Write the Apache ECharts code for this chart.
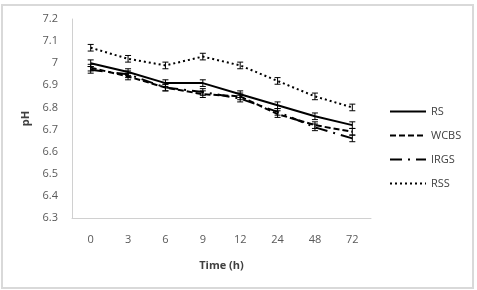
<!DOCTYPE html>
<html lang="en">
<head>
  <meta charset="UTF-8">
  <title>pH over time</title>
  <script src="https://cdn.jsdelivr.net/npm/echarts@6/dist/echarts.min.js"></script>
  <style>
    body { margin: 0; background: #fff; }
    #echarts { width: 477px; height: 290px; }
  </style>
</head>
<body>
  <div id="echarts"></div>
</body>
</html>
<script>
  // data
  const times = ['0', '3', '6', '9', '12', '24', '48', '72'];
  const rs   = [7.00, 6.96, 6.91, 6.91, 6.86, 6.81, 6.76, 6.72];
  const wcbs = [6.98, 6.94, 6.89, 6.86, 6.85, 6.77, 6.72, 6.69];
  const irgs = [6.97, 6.95, 6.89, 6.87, 6.84, 6.78, 6.71, 6.66];
  const rss  = [7.07, 7.02, 6.99, 7.03, 6.99, 6.92, 6.85, 6.80];
  const errSize = 0.015;

  let chart = echarts.init(document.getElementById('echarts'));

  function errorBars(values) {
    return {
      type: 'custom',
      z: 5,
      silent: true,
      renderItem: function (params, api) {
        let x = api.value(0);
        let v = api.value(1);
        let top = api.coord([x, v + errSize]);
        let bot = api.coord([x, v - errSize]);
        let w = 3;
        let style = { stroke: '#000', lineWidth: 1 };
        return {
          type: 'group',
          children: [
            { type: 'line', shape: { x1: top[0], y1: top[1], x2: bot[0], y2: bot[1] }, style: style },
            { type: 'line', shape: { x1: top[0] - w, y1: top[1], x2: top[0] + w, y2: top[1] }, style: style },
            { type: 'line', shape: { x1: bot[0] - w, y1: bot[1], x2: bot[0] + w, y2: bot[1] }, style: style }
          ]
        };
      },
      data: values.map((v, i) => [i, v])
    };
  }

  function lineSeries(name, values, dash) {
    return {
      name: name,
      type: 'line',
      data: values,
      symbol: 'none',
      lineStyle: { color: '#000', width: 2, type: dash },
      itemStyle: { color: '#000' }
    };
  }

  chart.setOption({
    animation: false,
    textStyle: { fontFamily: 'Open Sans' },
    graphic: [{
      type: 'rect',
      shape: { x: 2, y: 5, width: 471, height: 283 },
      style: { fill: 'none', stroke: '#d9d9d9', lineWidth: 2 }
    }],
    grid: { left: 72, right: 106, top: 19, bottom: 72 },
    legend: {
      orient: 'vertical',
      left: 384,
      top: 101,
      itemWidth: 36,
      itemHeight: 10,
      itemGap: 13,
      itemStyle: { opacity: 0 },
      textStyle: { fontSize: 11, color: '#404040' },
      data: ['RS', 'WCBS', 'IRGS', 'RSS']
    },
    xAxis: {
      type: 'category',
      data: times,
      name: 'Time (h)',
      nameLocation: 'middle',
      nameGap: 42,
      nameTextStyle: { fontWeight: 'bold', fontSize: 11, color: '#404040' },
      axisLine: { lineStyle: { color: '#d0d0d0', width: 1 } },
      axisTick: { show: false },
      axisLabel: { fontSize: 11, color: '#595959', margin: 16 }
    },
    yAxis: {
      type: 'value',
      min: 6.3,
      max: 7.2,
      interval: 0.1,
      name: 'pH',
      nameLocation: 'middle',
      nameGap: 38,
      nameTextStyle: { fontWeight: 'bold', fontSize: 11, color: '#404040' },
      axisLine: { show: true, lineStyle: { color: '#d0d0d0', width: 1 } },
      splitLine: { show: false },
      axisLabel: {
        fontSize: 11,
        color: '#595959',
        margin: 14,
        formatter: v => String(Math.round(v * 10) / 10)
      }
    },
    series: [
      lineSeries('RS', rs, 'solid'),
      lineSeries('WCBS', wcbs, [6, 3]),
      lineSeries('IRGS', irgs, [12, 6, 2, 6]),
      lineSeries('RSS', rss, [2, 3]),
      errorBars(rs),
      errorBars(wcbs),
      errorBars(irgs),
      errorBars(rss)
    ]
  });
</script>
